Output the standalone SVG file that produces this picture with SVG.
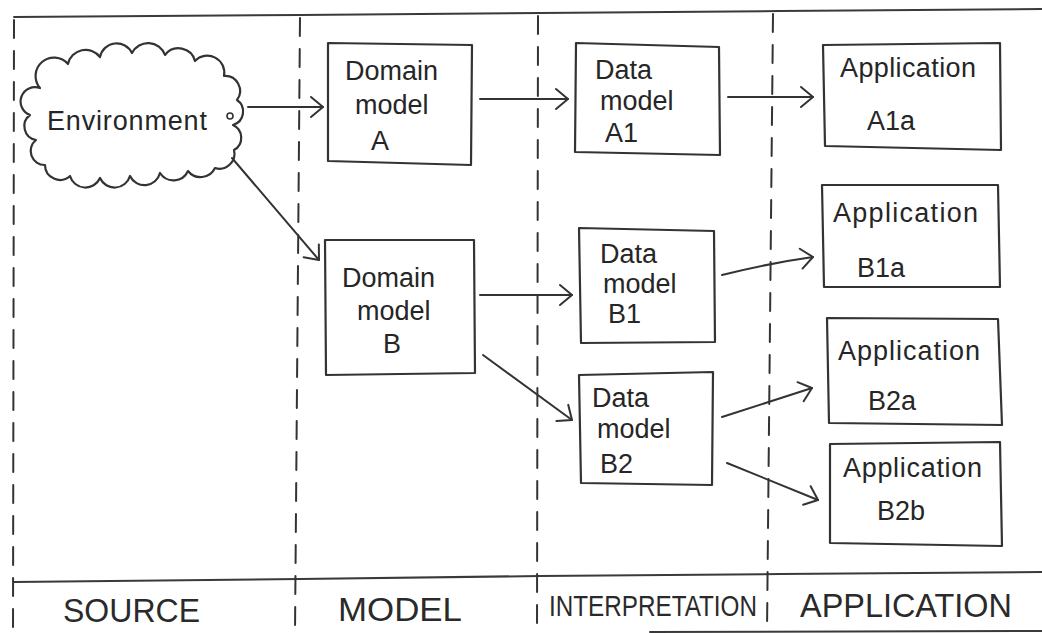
<svg xmlns="http://www.w3.org/2000/svg" width="1042" height="633" viewBox="0 0 1042 633">
<style>
.frame{fill:none;stroke:#3a3a3a;stroke-width:2;stroke-linecap:round;stroke-linejoin:round}
.dash{fill:none;stroke:#333;stroke-width:2;stroke-dasharray:18 13;stroke-linecap:round}
.box{fill:none;stroke:#333;stroke-width:2.2;stroke-linejoin:round}
.conn{fill:none;stroke:#333;stroke-width:2;stroke-linecap:round}
.t{font-family:"Liberation Sans",Arial,sans-serif;font-size:27px;fill:#262626}
.lbl{font-family:"Liberation Sans",Arial,sans-serif;font-size:34px;fill:#2a2a2a}
</style>
<defs>
<marker id="arr" viewBox="-2 -2 16 24" refX="12" refY="10" markerWidth="16" markerHeight="24" markerUnits="userSpaceOnUse" orient="auto">
<path d="M0,0 L12,10 L0,20" fill="none" stroke="#333" stroke-width="2" stroke-linecap="round" stroke-linejoin="round"/>
</marker>
</defs>
<rect width="1042" height="633" fill="#fff"/>
<g id="frame">
<path class="frame" d="M14,17 L300,15 L540,13 L780,11 L1042,9"/>
<path class="frame" d="M14,582 L300,579 L540,576 L780,574 L1042,572"/>
<path class="frame" d="M650,632 L1042,631" stroke-width="1.5"/>
<path class="dash" d="M14,20 L13,633"/>
<path class="dash" d="M300,18 L295,633"/>
<path class="dash" d="M538,16 L537,633"/>
<path class="dash" d="M773,14 L767,633"/>
</g>
<g id="environment">
<path class="box" d="M40,88 A16,16 0 0 1 68,64 A18,18 0 0 1 100,57 A17,17 0 0 1 132,53 A18,18 0 0 1 165,55 A17,17 0 0 1 195,61 A17,17 0 0 1 224,76 A15,15 0 0 1 237,100 A14,14 0 0 1 233,125 A14,14 0 0 1 234,150 A15,15 0 0 1 215,168 A16,16 0 0 1 188,171 A16,16 0 0 1 160,173 A16,16 0 0 1 130,176 A16,16 0 0 1 100,178 A16,16 0 0 1 70,176 A15,15 0 0 1 45,165 A14,14 0 0 1 36,140 A14,14 0 0 1 30,115 A14,14 0 0 1 40,88 Z"/>
<circle cx="230" cy="116" r="3" fill="none" stroke="#333" stroke-width="1.6"/>
<text class="t" x="47" y="130" textLength="160">Environment</text>
</g>
<g id="domainA">
<path class="box" d="M328,43 L472,45 L471,165 L328,161 Z"/>
<text class="t" x="345" y="80">Domain</text>
<text class="t" x="355" y="114">model</text>
<text class="t" x="371" y="150">A</text>
</g>
<g id="dataA1">
<path class="box" d="M576,43 L719,47 L720,155 L575,152 Z"/>
<text class="t" x="595" y="79">Data</text>
<text class="t" x="600" y="110">model</text>
<text class="t" x="605" y="142">A1</text>
</g>
<g id="appA1a">
<path class="box" d="M823,45 L1000,43 L1001,150 L825,146 Z"/>
<text class="t" x="840" y="77" textLength="136">Application</text>
<text class="t" x="867" y="130">A1a</text>
</g>
<g id="domainB">
<path class="box" d="M325,240 L474,240 L475,373 L326,375 Z"/>
<text class="t" x="342" y="287">Domain</text>
<text class="t" x="357" y="320">model</text>
<text class="t" x="383" y="353">B</text>
</g>
<g id="dataB1">
<path class="box" d="M579,228 L714,231 L715,342 L581,343 Z"/>
<text class="t" x="600" y="263">Data</text>
<text class="t" x="603" y="293">model</text>
<text class="t" x="608" y="323">B1</text>
</g>
<g id="appB1a">
<path class="box" d="M822,185 L998,185 L1000,287 L824,287 Z"/>
<text class="t" x="833" y="222" textLength="145">Application</text>
<text class="t" x="857" y="277">B1a</text>
</g>
<g id="dataB2">
<path class="box" d="M579,375 L713,372 L712,485 L581,483 Z"/>
<text class="t" x="592" y="407">Data</text>
<text class="t" x="597" y="438">model</text>
<text class="t" x="600" y="473">B2</text>
</g>
<g id="appB2a">
<path class="box" d="M827,318 L998,319 L1002,425 L829,423 Z"/>
<text class="t" x="838" y="360" textLength="142">Application</text>
<text class="t" x="868" y="410">B2a</text>
</g>
<g id="appB2b">
<path class="box" d="M830,444 L1000,442 L1002,546 L830,543 Z"/>
<text class="t" x="843" y="477" textLength="139">Application</text>
<text class="t" x="877" y="520">B2b</text>
</g>
<g id="connectors">
<path class="conn" d="M248,107 L323,107" marker-end="url(#arr)"/>
<path class="conn" d="M480,99 L568,99" marker-end="url(#arr)"/>
<path class="conn" d="M728,97 L813,97" marker-end="url(#arr)"/>
<path class="conn" d="M232,158 L319,260" marker-end="url(#arr)"/>
<path class="conn" d="M480,295 L572,295" marker-end="url(#arr)"/>
<path class="conn" d="M483,355 L572,420" marker-end="url(#arr)"/>
<path class="conn" d="M722,275 Q770,263 813,257" marker-end="url(#arr)"/>
<path class="conn" d="M722,417 L812,388" marker-end="url(#arr)"/>
<path class="conn" d="M727,463 L818,500" marker-end="url(#arr)"/>
</g>
<g id="labels">
<text class="lbl" x="63" y="622" textLength="137" lengthAdjust="spacingAndGlyphs">SOURCE</text>
<text class="lbl" x="338" y="621" textLength="124" lengthAdjust="spacingAndGlyphs">MODEL</text>
<text class="lbl" x="549" y="616" textLength="208" lengthAdjust="spacingAndGlyphs" style="font-size:30px">INTERPRETATION</text>
<text class="lbl" x="800" y="617" textLength="212" lengthAdjust="spacingAndGlyphs">APPLICATION</text>
</g>
</svg>
